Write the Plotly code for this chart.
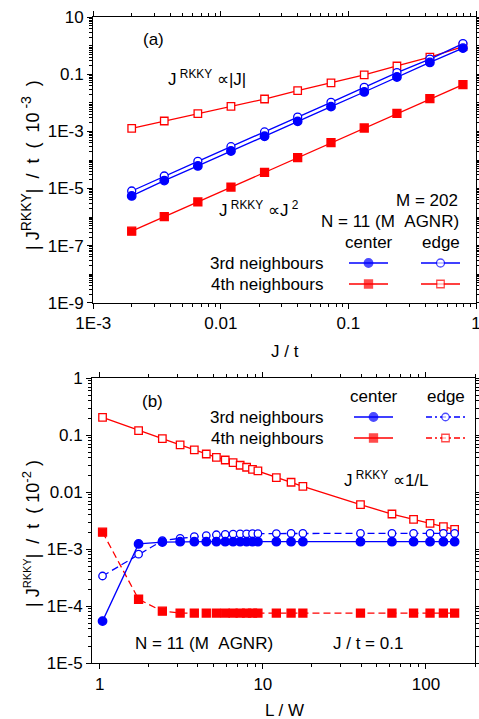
import numpy as np
import plotly.graph_objects as go

W, H = 479, 719
FONT = "Liberation Sans, Arial, sans-serif"
BLUE = "#0000FF"
RED = "#FF0000"

# ---------------- data: panel (a) ----------------
J_over_t = [0.002, 0.0036, 0.0066, 0.012, 0.022, 0.04, 0.073, 0.133, 0.24, 0.435, 0.79]
a_center_3rd = [5.5e-6, 1.9e-5, 6.2e-5, 2.07e-4, 6.8e-4, 2.26e-3, 7.4e-3, 0.0242, 0.081, 0.262, 0.83]
a_edge_3rd = [8.2e-6, 2.75e-5, 9.0e-5, 2.93e-4, 9.6e-4, 3.2e-3, 0.0105, 0.035, 0.115, 0.345, 1.2]
a_center_4th = [3.2e-7, 1.03e-6, 3.4e-6, 1.13e-5, 3.7e-5, 1.21e-4, 4.05e-4, 1.32e-3, 4.3e-3, 0.0141, 0.0437]
a_edge_4th = [1.29e-3, 2.33e-3, 4.2e-3, 7.6e-3, 0.0137, 0.0269, 0.05, 0.0955, 0.197, 0.405, 0.94]

# ---------------- data: panel (b) ----------------
L_over_W = [1.04, 1.73, 2.42, 3.11, 3.80, 4.50, 5.19, 5.88, 6.57, 7.26, 7.95, 8.64, 9.33,
            12.1, 14.9, 17.6, 39.7, 61.9, 84.0, 106, 128, 150]
b_center_3rd = [5.5e-5, 1.24e-3, 1.34e-3, 1.36e-3, 1.36e-3, 1.36e-3, 1.36e-3, 1.36e-3, 1.36e-3,
                1.36e-3, 1.36e-3, 1.36e-3, 1.36e-3, 1.36e-3, 1.36e-3, 1.36e-3, 1.36e-3, 1.36e-3,
                1.36e-3, 1.36e-3, 1.36e-3, 1.36e-3]
b_edge_3rd = [3.4e-4, 8.2e-4, 1.42e-3, 1.56e-3, 1.67e-3, 1.74e-3, 1.8e-3, 1.83e-3, 1.85e-3,
              1.86e-3, 1.87e-3, 1.88e-3, 1.88e-3, 1.89e-3, 1.9e-3, 1.9e-3, 1.9e-3, 1.9e-3,
              1.9e-3, 1.9e-3, 1.9e-3, 1.9e-3]
b_center_4th = [2.0e-3, 1.33e-4, 8.2e-5, 7.6e-5, 7.6e-5, 7.6e-5, 7.6e-5, 7.6e-5, 7.6e-5,
                7.6e-5, 7.6e-5, 7.6e-5, 7.6e-5, 7.6e-5, 7.6e-5, 7.6e-5, 7.6e-5, 7.6e-5,
                7.6e-5, 7.6e-5, 7.6e-5, 7.6e-5]
b_edge_4th = [0.207, 0.121, 0.0875, 0.0677, 0.0553, 0.047, 0.0411, 0.0369, 0.0331, 0.0298,
              0.0275, 0.0253, 0.0237, 0.0181, 0.015, 0.0127, 6.07e-3, 4.16e-3, 3.36e-3,
              2.86e-3, 2.49e-3, 2.24e-3]

# tick labels
a_x_ticks = [1e-3, 1e-2, 1e-1, 1]
a_x_labels = ["1E-3", "0.01", "0.1", "1"]
a_y_ticks = [10, 0.1, 1e-3, 1e-5, 1e-7, 1e-9]
a_y_labels = ["10", "0.1", "1E-3", "1E-5", "1E-7", "1E-9"]
b_x_ticks = [1, 10, 100]
b_x_labels = ["1", "10", "100"]
b_y_ticks = [1, 0.1, 0.01, 1e-3, 1e-4, 1e-5]
b_y_labels = ["1", "0.1", "0.01", "1E-3", "1E-4", "1E-5"]


def minor_vals(lo_exp, hi_exp, include_decades=False):
    vals = []
    for e in range(lo_exp, hi_exp + 1):
        ks = range(1, 10) if include_decades else range(2, 10)
        for k in ks:
            vals.append(k * 10.0 ** e)
    return vals


def px(x):
    return x / W


def py(y):
    return 1 - y / H


fig = go.Figure()

# ---- panel (a) traces ----
def add_a(y, symbol, size, filled, color):
    fig.add_trace(go.Scatter(
        x=J_over_t, y=y, mode="lines+markers", xaxis="x", yaxis="y",
        line=dict(color=color, width=1.3),
        marker=dict(symbol=symbol, size=size,
                    color=color if filled else "white",
                    line=dict(color=color, width=1.3)),
        showlegend=False, hoverinfo="skip"))

add_a(a_edge_4th, "square", 7.5, False, RED)
add_a(a_center_4th, "square", 8, True, RED)
add_a(a_edge_3rd, "circle", 8, False, BLUE)
add_a(a_center_3rd, "circle", 8.5, True, BLUE)

# ---- panel (b) traces ----
def add_b(y, symbol, size, filled, color, dash):
    fig.add_trace(go.Scatter(
        x=L_over_W, y=y, mode="lines+markers", xaxis="x2", yaxis="y2",
        line=dict(color=color, width=1.3, dash=dash),
        marker=dict(symbol=symbol, size=size,
                    color=color if filled else "white",
                    line=dict(color=color, width=1.3)),
        showlegend=False, hoverinfo="skip"))

add_b(b_edge_4th, "square", 7.5, False, RED, "solid")
add_b(b_center_4th, "square", 8, True, RED, "7px,4px")
add_b(b_edge_3rd, "circle", 7.5, False, BLUE, "7px,4px")
add_b(b_center_3rd, "circle", 8.5, True, BLUE, "solid")

# ---- legend samples (overlay axis in pixel units) ----
def legend_sample(x0, x1, y, symbol, size, filled, color, dash):
    xm = (x0 + x1) / 2
    fig.add_trace(go.Scatter(
        x=[x0, xm, x1], y=[y, y, y], mode="lines+markers", xaxis="x3", yaxis="y3",
        line=dict(color=color, width=1.3, dash=dash),
        marker=dict(symbol=symbol, size=[0, size, 0],
                    color=color if filled else "white",
                    line=dict(color=color, width=[0, 1.3, 0])),
        showlegend=False, hoverinfo="skip"))

# panel (a) legend
legend_sample(349, 388, 263, "circle", 8.5, True, BLUE, "solid")
legend_sample(421, 460, 263, "circle", 8, False, BLUE, "solid")
legend_sample(349, 388, 284, "square", 8, True, RED, "solid")
legend_sample(421, 460, 284, "square", 7.5, False, RED, "solid")
# panel (b) legend
legend_sample(354, 393, 417, "circle", 8.5, True, BLUE, "solid")
legend_sample(426, 465, 417, "circle", 7.5, False, BLUE, "6px,3px,2px,3px")
legend_sample(354, 393, 438, "square", 8, True, RED, "solid")
legend_sample(426, 465, 438, "square", 7.5, False, RED, "6px,3px,2px,3px")

axis_common = dict(
    type="log", showline=True, linecolor="black", linewidth=1.3, mirror="allticks",
    ticks="outside", ticklen=5, tickwidth=1.2, tickcolor="black",
    showgrid=False, zeroline=False, tickmode="array", automargin=False,
    ticklabeloverflow="allow",
    tickfont=dict(family=FONT, size=17, color="black"),
)

a_xdom = [93.3 / W, 476 / W]
a_ydom = [py(302.7), py(17.3)]
b_xdom = [92.3 / W, 475 / W]
b_ydom = [py(663.3), py(378.3)]

fig.update_layout(
    width=W, height=H, margin=dict(l=0, r=0, t=0, b=0, pad=0, autoexpand=False),
    paper_bgcolor="white", plot_bgcolor="rgba(0,0,0,0)",
    font=dict(family=FONT, size=17, color="black"),
    xaxis=dict(axis_common, domain=a_xdom, anchor="y", range=[-3, 0],
               tickvals=a_x_ticks, ticktext=a_x_labels,
               minor=dict(tickvals=minor_vals(-3, -1), ticks="outside", ticklen=3,
                          tickwidth=1, tickcolor="black")),
    yaxis=dict(axis_common, domain=a_ydom, anchor="x", range=[-9, 1],
               tickvals=a_y_ticks, ticktext=a_y_labels,
               minor=dict(tickvals=[v for v in minor_vals(-9, 0, True) if v not in a_y_ticks],
                          ticks="outside", ticklen=3, tickwidth=1, tickcolor="black")),
    xaxis2=dict(axis_common, domain=b_xdom, anchor="y2",
                range=[np.log10(0.9), np.log10(200)],
                tickvals=b_x_ticks, ticktext=b_x_labels,
                minor=dict(tickvals=minor_vals(0, 2), ticks="outside", ticklen=3,
                           tickwidth=1, tickcolor="black")),
    yaxis2=dict(axis_common, domain=b_ydom, anchor="x2", range=[-5, 0],
                tickvals=b_y_ticks, ticktext=b_y_labels,
                minor=dict(tickvals=minor_vals(-5, -1), ticks="outside", ticklen=3,
                           tickwidth=1, tickcolor="black")),
    xaxis3=dict(domain=[0, 1], range=[0, W], visible=False, anchor="y3"),
    yaxis3=dict(domain=[0, 1], range=[H, 0], visible=False, anchor="x3"),
)

ann = []


def text(x, y, s, xanchor="center", yanchor="middle", size=17, angle=0):
    ann.append(dict(x=px(x), y=py(y), xref="paper", yref="paper", text=s,
                    showarrow=False, xanchor=xanchor, yanchor=yanchor,
                    textangle=angle, font=dict(family=FONT, size=size, color="black")))


NB = "\u00a0"


def sup(s, size):
    return "<sup><span style='font-size:%dpx'>%s</span></sup>" % (size, s)


# panel (a)
text(153, 40, "(a)")
text(166, 78, "J<sup>" + NB + "RKKY</sup>" + NB + "\u221d|J|", xanchor="left")
text(217, 209, "J<sup>" + NB + "RKKY</sup>" + NB + "\u221dJ<sup>" + NB + "2</sup>", xanchor="left")
text(460, 200, "M = 202", xanchor="right")
text(461, 221, "N = 11 (M" + NB + NB + "AGNR)", xanchor="right")
text(369, 242, "center")
text(440.5, 242, "edge")
text(324.5, 263, "3rd neighbours", xanchor="right")
text(324.5, 284, "4th neighbours", xanchor="right")
text(284.7, 351, "J / t")
title_a = ("|" + NB + "J" + sup("RKKY", 14) + "|" + NB * 2 + "/" + NB * 2 + "t" + NB * 2 + "("
           + NB * 2 + "10" + sup(NB + "-3", 14) + NB * 2 + ")")
text(31, 165, title_a, size=18, angle=-90)
# panel (b)
text(152, 402, "(b)")
text(373.7, 396, "center")
text(445.5, 396, "edge")
text(325, 417, "3rd neighbours", xanchor="right")
text(325, 438, "4th neighbours", xanchor="right")
text(341.7, 479, "J<sup>" + NB + "RKKY</sup>" + NB + "\u221d1/L", xanchor="left")
text(132.7, 643, "N = 11 (M" + NB + NB + "AGNR)", xanchor="left")
text(331, 643, "J / t = 0.1", xanchor="left")
text(284, 710, "L / W")
title_b = ("|" + NB + "J" + sup("RKKY", 11) + "|" + NB * 2 + "/" + NB * 2 + "t" + NB * 2 + "("
           + NB + "10" + sup("-2", 13) + NB + ")")
text(31, 534, title_b, size=18, angle=-90)

fig.update_layout(annotations=ann)

fig.write_html(
    "out.html",
    config={"displayModeBar": False},
    post_script="document.body.style.margin='0';document.body.style.overflow='hidden';",
)
